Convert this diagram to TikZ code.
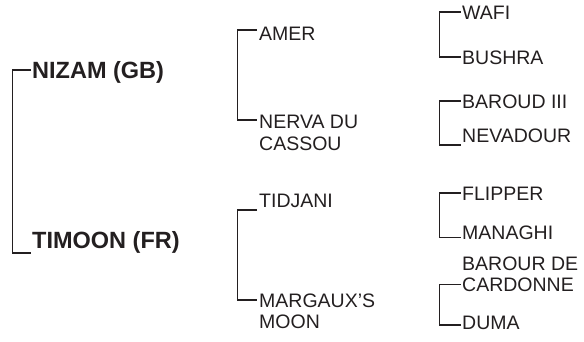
\documentclass[tikz,border=0pt]{standalone}
\usepackage{fontspec}
\setmainfont{Liberation Sans}
\definecolor{inkgrey}{HTML}{231F20}
\tikzset{
  sire/.style={anchor=base west, inner sep=0pt, text=inkgrey,
    font=\fontsize{23.5}{26}\selectfont\bfseries},
  horse/.style={anchor=base west, inner sep=0pt, align=left, text=inkgrey,
    font=\fontsize{19.5}{21.5}\selectfont},
  bracket/.style={draw=inkgrey, line width=1.9pt}
}
\begin{document}
\begin{tikzpicture}[x=1pt,y=-1pt]
  \useasboundingbox (0,0) rectangle (584,341);

  % sires
  \node[sire] (nizam) at (32,78.4) {NIZAM (GB)};
  \node[sire] (timoon) at (32,248) {TIMOON (FR)};
  \coordinate (nizamtick) at (31,70);
  \coordinate (timoontick) at (31,253);
  \draw[bracket] (nizamtick) -- ++(-18.5,0) |- (timoontick);

  % second generation (base of a two-line name = its last line)
  \node[horse] (amer) at (259,40) {AMER};
  \node[horse] (nerva) at (259,150) {NERVA DU\\CASSOU};
  \coordinate (amertick) at (257,30);
  \coordinate (nervatick) at (257,120);
  \draw[bracket] (amertick) -- ++(-19.5,0) |- (nervatick);

  \node[horse] (tidjani) at (259,207) {TIDJANI};
  \node[horse] (margaux) at (259,328.5) {MARGAUX'S\\MOON};
  \coordinate (tidjanitick) at (257,210);
  \coordinate (margauxtick) at (257,300);
  \draw[bracket] (tidjanitick) -- ++(-19.5,0) |- (margauxtick);

  % third generation
  \node[horse] (wafi) at (462,19) {WAFI};
  \node[horse] (bushra) at (462,64) {BUSHRA};
  \coordinate (wafitick) at (460.5,12);
  \coordinate (bushratick) at (460.5,57);
  \draw[bracket] (wafitick) -- ++(-21,0) |- (bushratick);

  \node[horse] (baroud) at (462,108) {BAROUD III};
  \node[horse] (nevadour) at (462,142) {NEVADOUR};
  \coordinate (baroudtick) at (460.5,101);
  \coordinate (nevadourtick) at (460.5,145);
  \draw[bracket] (baroudtick) -- ++(-21,0) |- (nevadourtick);

  \node[horse] (flipper) at (462,200) {FLIPPER};
  \node[horse] (managhi) at (462,239.5) {MANAGHI};
  \coordinate (flippertick) at (460.5,193);
  \coordinate (managhitick) at (460.5,237.5);
  \draw[bracket] (flippertick) -- ++(-21,0) |- (managhitick);

  \node[horse] (barour) at (462,291.5) {BAROUR DE\\CARDONNE};
  \node[horse] (duma) at (462,329.5) {DUMA};
  \coordinate (barourtick) at (460.5,284.5);
  \coordinate (dumatick) at (460.5,325);
  \draw[bracket] (barourtick) -- ++(-21,0) |- (dumatick);
\end{tikzpicture}
\end{document}
